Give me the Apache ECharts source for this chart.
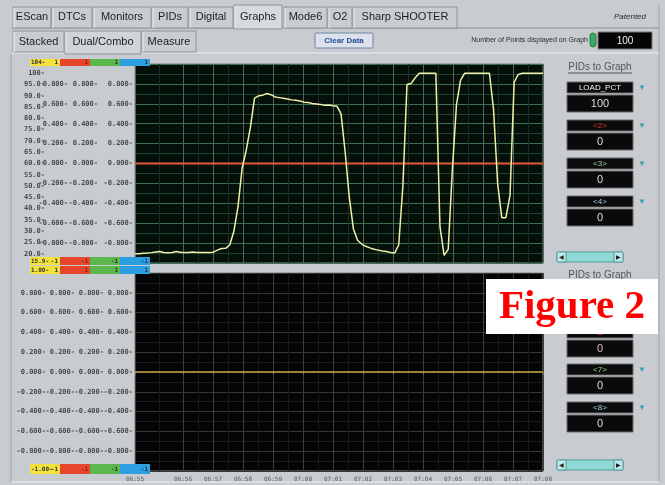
<!DOCTYPE html>
<html>
<head>
<meta charset="UTF-8">
<title>Graphs - Dual/Combo</title>
<style>
html,body{margin:0;padding:0;background:#c8ccd0;}
#main{width:665px;height:485px;}
</style>
</head>
<body>
<div id="main"></div>
<script src="https://cdn.jsdelivr.net/npm/echarts@6/dist/echarts.min.js"></script>
<script>
// ---- data ----
var pidNames  = ['LOAD_PCT', '<2>', '<3>', '<4>', '<5>', '<6>', '<7>', '<8>'];
var pidValues = [100, 0, 0, 0, 0, 0, 0, 0];

// time axis (seconds after 06:00:00)
var timeTicks  = [3264, 3360, 3420, 3480, 3540, 3600, 3660, 3720, 3780, 3840, 3900, 3960, 4020, 4080];
var timeLabels = ['06:55', '06:56', '06:57', '06:58', '06:59', '07:00', '07:01', '07:02', '07:03', '07:04', '07:05', '07:06', '07:07', '07:08'];
var sampleStart = 3264;
var sampleEnd = 4080;

// LOAD_PCT ticks on the first label column
var loadTicks = [20, 25, 30, 35, 40, 45, 50, 55, 60, 65, 70, 75, 80, 85, 90, 95, 100];

// LOAD_PCT, 100 points displayed
var load = [
  20.0, 20.0, 20.2, 20.3, 20.5, 20.8, 21.0, 20.6, 20.4, 20.6,
  21.0, 20.7, 20.5, 20.6, 20.8, 20.6, 20.5, 20.5, 20.6, 20.7,
  21.6, 22.3, 22.4, 24.0, 30.0, 41.0, 58.0, 66.0, 76.0, 89.0,
  90.0, 90.3, 91.0, 90.5, 89.5, 89.2, 88.9, 88.6, 88.2, 88.0,
  87.7, 87.2, 87.0, 86.6, 86.4, 86.2, 85.8, 85.9, 85.6, 85.4,
  82.0, 65.0, 45.0, 31.0, 26.0, 24.3, 23.3, 22.6, 22.0, 21.6,
  21.2, 21.0, 20.6, 20.3, 24.0, 50.0, 95.0, 95.5, 98.0, 100,
  100, 100, 100, 100, 32.0, 19.3, 22.0, 57.0, 86.0, 97.0,
  100, 100, 100, 100, 100, 100, 100, 84.0, 51.0, 36.0,
  36.0, 46.0, 96.0, 99.5, 100, 100, 100, 100, 100, 100
];

var step = (sampleEnd - sampleStart) / (load.length - 1);
var loadData = load.map(function (v, i) { return [sampleStart + i * step, v]; });

// half-way grid lines between the time ticks
var halfTicks = [];
for (var k = 1; k < timeTicks.length; k++) halfTicks.push((timeTicks[k - 1] + timeTicks[k]) / 2);

var myChart = echarts.init(document.getElementById('main'));

var MONO = 'DejaVu Sans Mono';
var SANS = 'Liberation Sans';

function loadFmt(v) { return v === 100 ? '100-' : v.toFixed(1) + '-'; }
function unitFmt(v) { return v.toFixed(3) + '-'; }

function labelStyle(extra) {
  var s = { fontSize: 7, fontFamily: MONO, fontWeight: 'bold', color: '#4a4a4a', margin: 0 };
  for (var key in extra) s[key] = extra[key];
  return s;
}

function unitAxis(grid, off, split, splitColor, minorColor) {
  return {
    gridIndex: grid, type: 'value', min: -1, max: 1, interval: 0.2,
    position: 'left', offset: off,
    axisLine: { show: false }, axisTick: { show: false },
    axisLabel: labelStyle({ formatter: unitFmt, showMinLabel: false, showMaxLabel: false }),
    splitLine: { show: split, lineStyle: { color: splitColor, width: 1 } },
    minorTick: { show: false, splitNumber: 2 },
    minorSplitLine: { show: split, lineStyle: { color: minorColor, width: 1 } }
  };
}

function timeAxis(grid, ticks, color, labels) {
  return {
    gridIndex: grid, type: 'value', min: sampleStart, max: sampleEnd,
    axisLine: { show: false },
    axisTick: { show: labels, customValues: ticks, length: 3, lineStyle: { color: '#666' } },
    axisLabel: {
      show: labels, customValues: ticks, margin: 5, fontSize: 6, fontFamily: MONO, color: '#555',
      formatter: function (v) { return timeLabels[timeTicks.indexOf(v)]; }
    },
    splitLine: { show: true, lineStyle: { color: color, width: 1 } }
  };
}

// ---- window chrome drawn with graphic elements ----
var els = [];
function box(x, y, w, h, fill, stroke, z, r) {
  els.push({ type: 'rect', silent: true, z: z || 1,
    shape: { x: x, y: y, width: w, height: h, r: r || 0 },
    style: { fill: fill, stroke: stroke || null, lineWidth: 1 } });
}
function line(x1, y1, x2, y2, color, z) {
  els.push({ type: 'line', silent: true, z: z || 1,
    shape: { x1: x1, y1: y1, x2: x2, y2: y2 }, style: { stroke: color, lineWidth: 1 } });
}
function txt(x, y, s, font, color, align, z) {
  els.push({ type: 'text', silent: true, z: z || 2, x: x, y: y,
    style: { text: s, font: font, fill: color, textAlign: align || 'left', textVerticalAlign: 'middle',
             align: align || 'left', verticalAlign: 'middle' } });
}

// outer frame
line(11, 53, 11, 482, '#9ea2a6');
line(659, 5, 659, 482, '#9ea2a6');
line(11, 482, 659, 482, '#eef0f2');
line(11, 53, 659, 53, '#eef0f2');

// main tabs
var tabs1 = [['EScan', 13, 38], ['DTCs', 52, 40], ['Monitors', 93, 58], ['PIDs', 152, 36], ['Digital', 189, 44],
             ['Graphs', 234, 48], ['Mode6', 284, 43], ['O2', 328, 24], ['Sharp SHOOTER', 353, 104]];
line(11, 28, 659, 28, '#8f9397');
tabs1.forEach(function (t) {
  var sel = t[0] === 'Graphs';
  box(t[1], sel ? 5 : 7, t[2], sel ? 24 : 21, sel ? '#d6dadd' : '#c9cdd1', '#8f9397');
  line(t[1] + 1, sel ? 6 : 8, t[1] + 1, 28, '#f2f4f6');
  txt(t[1] + t[2] / 2, 17, t[0], '11px ' + SANS, '#1e1e1e', 'center');
});
txt(630, 17, 'Patented', 'italic 8px ' + SANS, '#2a2a2a', 'center');

// sub tabs
var tabs2 = [['Stacked', 13, 51], ['Dual/Combo', 65, 76], ['Measure', 142, 54]];
tabs2.forEach(function (t) {
  var sel = t[0] === 'Dual/Combo';
  box(t[1], 31, t[2], sel ? 23 : 21, sel ? '#d0d4d7' : '#c9cdd1', '#8f9397');
  line(t[1] + 1, 32, t[1] + 1, 52, '#f2f4f6');
  txt(t[1] + t[2] / 2, 42, t[0], '11px ' + SANS, '#1e1e1e', 'center');
});

// clear data button + points box
box(315, 33, 58, 15, '#dde2ea', '#6f84a2', 1, 1);
txt(344, 41, 'Clear Data', 'bold 8px ' + SANS, '#1f4ea0', 'center');
txt(588, 40, 'Number of Points displayed on Graph', '7px ' + SANS, '#2a2a2a', 'right');
box(590, 33, 6, 14, '#3ea864', '#2a7a48', 1, 3);
box(598, 32, 54, 17, '#050505', '#777');
txt(625, 41, '100', '10px ' + SANS, '#f0f0f0', 'center');

// coloured scale boxes at the panel corners
var swatch = ['#f4e23c', '#e6472c', '#5cb84c', '#2b9fe2'];
var swX = [30, 60, 90, 120];
var rows = [
  { y: 59, h: 7, left: '104-', right: ['1', '1', '1', '1'] },
  { y: 257, h: 8, left: '15.9-', right: ['-1', '-1', '-1', '-1'] },
  { y: 266, h: 8, left: '1.00-', right: ['1', '1', '1', '1'] },
  { y: 464, h: 10, left: '-1.00-', right: ['-1', '-1', '-1', '-1'] }
];
rows.forEach(function (r) {
  for (var i = 0; i < 4; i++) {
    box(swX[i], r.y, 30, r.h, swatch[i], null, 50);
    txt(swX[i] + 28, r.y + r.h / 2, r.right[i], 'bold 6px ' + MONO, i === 1 ? '#8a2010' : '#333', 'right', 51);
  }
  txt(31, r.y + r.h / 2, r.left, 'bold 6px ' + MONO, '#333', 'left', 51);
});

// right hand PID panel
function pidPanel(titleY, labelYs, first, scrollY) {
  txt(600, titleY, 'PIDs to Graph', '10px ' + SANS, '#555', 'center');
  line(568, titleY + 6, 632, titleY + 6, '#555');
  var colors = ['#f4f4f4', '#d83a30', '#9fd6a4', '#a6cde4'];
  labelYs.forEach(function (y, i) {
    var n = first + i;
    box(567, y, 66, 11, '#0b0b0b', '#6a6a6a');
    txt(600, y + 6, pidNames[n], '8px ' + SANS, colors[i], 'center');
    txt(642, y + 6, '\u25BC', '8px ' + SANS, '#3a9fa8', 'center');
    box(567, y + 13, 66, 17, '#0a0a0a', '#6a6a6a');
    txt(600, y + 22, String(pidValues[n]), '11px ' + SANS, i === 1 && first ? '#e8b8b8' : '#dcdcdc', 'center');
  });
  box(557, scrollY, 66, 10, '#8fdad6', '#4c9c9c', 1, 2);
  box(557, scrollY, 9, 10, '#bfe8e6', '#4c9c9c');
  box(614, scrollY, 9, 10, '#bfe8e6', '#4c9c9c');
  txt(561.5, scrollY + 5, '\u25C0', '6px ' + SANS, '#222', 'center');
  txt(618.5, scrollY + 5, '\u25B6', '6px ' + SANS, '#222', 'center');
}
pidPanel(67, [82, 120, 158, 196], 0, 252);
pidPanel(275, [289, 327, 364, 402], 4, 460);

// figure caption overlay
box(486, 279, 172, 55, '#ffffff', null, 100);
txt(572, 307, 'Figure 2', 'bold 41px Liberation Serif', '#ff0000', 'center', 101);

myChart.setOption({
  backgroundColor: '#c8ccd0',
  animation: false,
  grid: [
    { left: 135, top: 64, width: 408, height: 199, show: true, backgroundColor: '#06100a', borderColor: '#7d8580', borderWidth: 1 },
    { left: 135, top: 273, width: 408, height: 198, show: true, backgroundColor: '#040504', borderColor: '#7d8580', borderWidth: 1 }
  ],
  xAxis: [
    timeAxis(0, timeTicks, '#56645c', false),
    timeAxis(0, halfTicks, '#1f2c25', false),
    timeAxis(1, timeTicks, '#3a3e3c', true),
    timeAxis(1, halfTicks, '#181a19', false)
  ],
  yAxis: [
    {
      gridIndex: 0, type: 'value', min: 15.9, max: 104.1, position: 'left', offset: 90,
      axisLine: { show: false }, axisTick: { show: false, customValues: loadTicks },
      axisLabel: labelStyle({ customValues: loadTicks, formatter: loadFmt }),
      splitLine: { show: false }
    },
    unitAxis(0, 67, true, '#3c7452', '#1d4430'),
    unitAxis(0, 37, false),
    unitAxis(0, 2, false),
    unitAxis(1, 89, true, '#333735', '#1a1c1b'),
    unitAxis(1, 60, false),
    unitAxis(1, 31, false),
    unitAxis(1, 2, false)
  ],
  series: [
    {
      name: pidNames[1], type: 'line', xAxisIndex: 0, yAxisIndex: 1, showSymbol: false, silent: true,
      data: [[sampleStart, pidValues[1]], [sampleEnd, pidValues[1]]],
      lineStyle: { color: '#e35a3a', width: 2 }, z: 3
    },
    {
      name: pidNames[0], type: 'line', xAxisIndex: 0, yAxisIndex: 0, showSymbol: false, silent: true,
      data: loadData,
      lineStyle: { color: '#f0f0a8', width: 1.5 }, z: 4
    },
    {
      name: pidNames[4], type: 'line', xAxisIndex: 2, yAxisIndex: 4, showSymbol: false, silent: true,
      data: [[sampleStart, pidValues[4]], [sampleEnd, pidValues[4]]],
      lineStyle: { color: '#c6a840', width: 1.5 }, z: 3
    }
  ],
  graphic: { elements: els }
});
</script>
</body>
</html>
